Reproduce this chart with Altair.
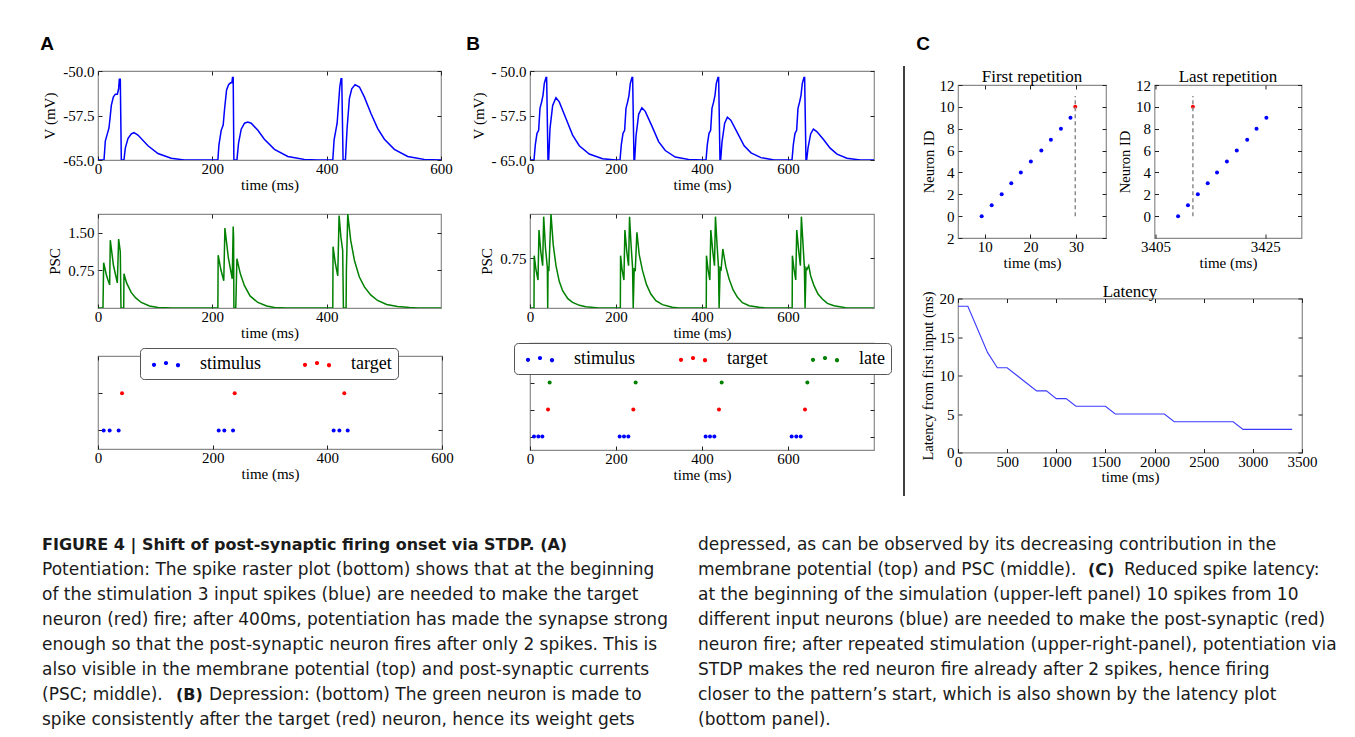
import altair as alt
import pandas as pd

# ---------------------------------------------------------------- data
# Panel A (potentiation): membrane potential  [time (ms), V (mV)]
A_V = [
    [0, -65], [10.5, -65], [12.8, -61.8], [16.3, -60.6], [19.2, -59.6], [21, -58], [23.3, -55.8],
    [26.8, -54.4], [30.3, -53.9], [33.8, -53.9], [36.1, -53], [37.3, -51.4], [39, -51.4], [40.8, -65],
    [45.4, -65], [47.8, -63], [52.4, -61.4], [58.3, -60.6], [62.9, -60.4], [69.9, -60.8], [87.4, -62.6],
    [104.9, -63.9], [128, -64.7], [151, -65],
    [209.7, -65], [211.5, -62.5], [215.5, -60], [219, -59.1], [221.4, -56.4], [224.9, -53.2], [228.4, -52.3],
    [231.8, -52], [234.2, -52], [235.3, -51.1], [236.5, -51.1], [237.7, -65], [243, -65], [245.8, -62.2],
    [250.5, -59.8], [256.3, -58.8], [262, -58.6], [268, -58.8], [279.6, -60], [291, -61.5], [308.7, -63.2],
    [332, -64.4], [361, -64.9], [384, -65],
    [410.7, -65], [413, -61.6], [416, -60], [418.3, -58.8], [420.6, -55.8], [422.9, -52.7], [425.2, -51.3],
    [426.4, -51.3], [428.7, -65], [432.8, -65], [435.7, -59.7], [439.8, -54.6], [443.9, -53], [449.7, -52.3],
    [457.3, -52.7], [466, -54.4], [477.7, -57.2], [489.3, -59.7], [501, -61.5], [518.4, -63.2], [541.7, -64.4],
    [570.8, -64.9], [600, -65],
]
# Panel A: post-synaptic current  [time (ms), PSC]
A_PSC = [
    [0, 0], [8.7, 0], [9.9, 0.90], [15, 0.64], [20.4, 0.46], [21.5, 1.35], [27, 0.85], [33.8, 0.50],
    [36.1, 1.37], [39, 1.12], [40.2, 0], [45, 0], [45.4, 0.68], [50, 0.5], [58, 0.31], [66, 0.2],
    [75.7, 0.11], [90, 0.04], [105, 0.01], [130, 0],
    [209.7, 0], [210.2, 1.05], [215, 0.76], [220, 0.54], [222, 1.59], [228, 1.0], [234.8, 0.58],
    [236.5, 1.62], [237.2, 1.4], [237.7, 0], [241, 0], [243, 0.98], [249, 0.68], [256, 0.45], [266, 0.24],
    [279.6, 0.11], [295, 0.04], [308.7, 0.01], [330, 0],
    [410.7, 0], [411.2, 1.22], [415, 0.9], [419.4, 0.64], [421.7, 1.84], [425, 1.4], [428, 1.15],
    [429.3, 0], [434, 0], [434.5, 0.75], [436.9, 1.87], [442, 1.35], [448.5, 0.95], [457, 0.62],
    [466, 0.42], [477, 0.26], [489, 0.15], [505, 0.07], [524, 0.03], [545, 0.01], [560, 0], [600, 0],
]
# Panel A raster: spike times (ms)
A_STIMULUS = [9.9, 20.3, 36.0, 210.5, 220.3, 235.5, 411.0, 421.0, 435.5]
A_TARGET = [41.9, 238.4, 429.6]

# Panel B (depression): membrane potential
B_V = [
    [0, -65], [9.3, -65], [12.4, -62.4], [16.3, -60.5], [20.1, -60], [23.2, -56.3], [27.1, -55.2],
    [30.2, -54.1], [33.3, -52.1], [37.2, -51.1], [38.7, -51.1], [41.8, -65], [43.4, -65], [46.5, -59.7],
    [52.7, -55.8], [60.4, -54.5], [68.1, -55.2], [83.6, -58], [99.1, -60.8], [114.6, -62.6],
    [137.8, -64], [168.8, -64.8], [199.8, -65],
    [209.3, -65], [212.4, -62.4], [216.3, -60.5], [220.1, -60], [223.2, -56.3], [227.1, -55.2],
    [230.2, -54.1], [233.3, -52.1], [237.2, -51.1], [238.7, -51.1], [241.8, -65], [243.4, -65],
    [246.5, -61], [252.7, -57.3], [260.2, -56.2], [268, -56.8], [283.6, -59.3], [299.1, -61.9],
    [314.6, -63.4], [337.8, -64.5], [368.8, -64.9], [399.8, -65],
    [409.3, -65], [412.4, -62.4], [416.3, -60.5], [420.1, -60], [423.2, -56.3], [427.1, -55.2],
    [430.2, -54.1], [433.3, -52.1], [437.2, -51.1], [438.7, -51.1], [441.8, -65], [443.4, -65],
    [446.5, -62], [452.7, -58.8], [459, -57.8], [467, -58.3], [483, -60.5], [498, -62.6], [514, -63.8],
    [537, -64.6], [568, -65], [599, -65],
    [609.3, -65], [612.4, -62.4], [616.3, -60.5], [620.1, -60], [623.2, -56.3], [627.1, -55.2],
    [630.2, -54.1], [633.3, -52.1], [637.2, -51.1], [638.7, -51.1], [641.8, -65], [643.4, -65],
    [646.5, -63], [652.7, -60.6], [659, -59.8], [667, -60.2], [683, -61.6], [698, -63], [714, -64],
    [737, -64.7], [768, -65], [800, -65],
]
# Panel B: post-synaptic current
B_PSC = [
    [0, 0], [9.3, 0], [9.8, 0.785], [14, 0.57], [18.6, 0.42], [20.9, 1.17], [25, 0.85], [29.4, 0.635],
    [31.8, 1.37], [36, 0.9], [40.3, 0.61], [41.2, 0], [42, 0.6], [44, 0.58], [48.8, 1.41], [54, 0.95],
    [60.4, 0.635], [68, 0.4], [75.9, 0.26], [88, 0.14], [99, 0.085], [115, 0.04], [130, 0.02], [160, 0],
    [210.1, 0], [210.6, 0.785], [214, 0.58], [218.4, 0.42], [220.7, 1.17], [225, 0.85], [229.2, 0.635],
    [231.5, 1.37], [235, 0.95], [238.5, 0.61], [240, 0], [242.4, 0.6], [244.7, 0.55], [248.6, 1.135],
    [254, 0.8], [261.7, 0.56], [271, 0.35], [281, 0.21], [292.7, 0.11], [308, 0.05], [331, 0.01], [347, 0],
    [409.9, 0], [410.4, 0.785], [414, 0.58], [418.2, 0.42], [420.5, 1.17], [425, 0.85], [429, 0.635],
    [431.3, 1.37], [435, 0.95], [438.3, 0.61], [439.8, 0], [442.2, 0.6], [444.5, 0.58], [448.4, 0.885],
    [455.4, 0.62], [463, 0.435], [472.4, 0.27], [482.5, 0.16], [494, 0.08], [509.6, 0.035], [533, 0.01],
    [548, 0],
    [609.7, 0], [610.2, 0.785], [614, 0.58], [618, 0.42], [620.3, 1.17], [625, 0.85], [628.8, 0.635],
    [631.1, 1.37], [635, 0.95], [638.1, 0.61], [639.7, 0], [642, 0.6], [644.3, 0.58], [648.2, 0.635],
    [652.8, 0.48], [660.5, 0.335], [669.8, 0.21], [679.9, 0.135], [691.5, 0.07], [707, 0.035],
    [734, 0.005], [760, 0], [800, 0],
]
# Panel B raster: spike times (ms)
B_STIMULUS = [9.3, 19.4, 28.7, 208.5, 218.6, 228.7, 408.5, 418.6, 428.7, 608.5, 619.4, 629.5]
B_TARGET = [41.9, 240.3, 439.5, 639.5]
B_LATE = [45.7, 245.7, 445.7, 645.0]

# Panel C: first / last repetition (spike time ms, neuron id)
FIRST_T = [9.3, 11.5, 13.7, 15.8, 17.9, 20.1, 22.4, 24.5, 26.7, 28.8]
FIRST_ID = [0, 1, 2, 3, 4, 5, 6, 7, 8, 9]
FIRST_POST = [29.85, 10]
FIRST_DASH = [29.85, 0, 11]
LAST_T = [3409.1, 3410.9, 3412.7, 3414.5, 3416.2, 3418.0, 3419.8, 3421.7, 3423.4, 3425.2]
LAST_ID = [0, 1, 2, 3, 4, 5, 6, 7, 8, 9]
LAST_POST = [3411.8, 10]
LAST_DASH = [3411.8, 0, 11]

# Panel C: latency
LAT_T = [0, 100, 200, 300, 400, 500, 600, 700, 800, 900, 1000, 1100, 1200, 1300, 1400, 1500, 1600,
         1700, 1800, 1900, 2000, 2100, 2200, 2300, 2400, 2500, 2600, 2700, 2800, 2900, 3000, 3100,
         3200, 3300, 3400]
LAT_MS = [19, 19, 16, 13, 11, 11, 10, 9, 8, 8, 7, 7, 6, 6, 6, 6, 5, 5, 5, 5, 5, 5, 4, 4, 4, 4, 4, 4,
          4, 3, 3, 3, 3, 3, 3]

# tick labels
A_X_TICKS = [0, 200, 400, 600]
A_PSC_X_TICKS = [0, 200, 400]
B_X_TICKS = [0, 200, 400, 600]
V_TICKS = [-50, -57.5, -65]
A_PSC_TICKS = [0.75, 1.5]
B_PSC_TICKS = [0.75]
A_ROW_TICKS = [0, 1]
B_ROW_TICKS = [0, 1, 2]
FIRST_X_TICKS = [10, 20, 30]
LAST_X_TICKS = [3405, 3425]
FIRST_Y_TICKS = [-2, 0, 2, 4, 6, 8, 10, 12]
LAST_Y_TICKS = [0, 2, 4, 6, 8, 10, 12]
LAT_X_TICKS = [0, 500, 1000, 1500, 2000, 2500, 3000, 3500]
LAT_Y_TICKS = [0, 5, 10, 15, 20]

# caption text
CAP_HEAD = "FIGURE 4 | Shift of post-synaptic firing onset via STDP. (A)"
CAP_LEFT = [
    "Potentiation: The spike raster plot (bottom) shows that at the beginning",
    "of the stimulation 3 input spikes (blue) are needed to make the target",
    "neuron (red) fire; after 400ms, potentiation has made the synapse strong",
    "enough so that the post-synaptic neuron fires after only 2 spikes. This is",
    "also visible in the membrane potential (top) and post-synaptic currents",
]
CAP_LEFT_SPLIT = ["(PSC; middle).", "(B)", "Depression: (bottom) The green neuron is made to"]
CAP_LEFT_LAST = "spike consistently after the target (red) neuron, hence its weight gets"
CAP_RIGHT_FIRST = "depressed, as can be observed by its decreasing contribution in the"
CAP_RIGHT_SPLIT = ["membrane potential (top) and PSC (middle).", "(C)", "Reduced spike latency:"]
CAP_RIGHT = [
    "at the beginning of the simulation (upper-left panel) 10 spikes from 10",
    "different input neurons (blue) are needed to make the post-synaptic (red)",
    "neuron fire; after repeated stimulation (upper-right-panel), potentiation via",
    "STDP makes the red neuron fire already after 2 spikes, hence firing",
    "closer to the pattern\u2019s start, which is also shown by the latency plot",
    "(bottom panel).",
]

# ---------------------------------------------------------------- style
SERIF = "Liberation Serif"
SANS = "DejaVu Sans"
BLUE, GREEN, RED = "#0000ff", "#008000", "#ff0000"
FRAME = "#8a8a8a"
TICKC = "#222222"
NOFRAME = alt.ViewBackground(stroke="transparent")
ONE = pd.DataFrame({"a": [0]})
TICK = 4  # inward tick length


def dots_path(centers, r):
    out = []
    for cx, cy in centers:
        out.append(f"M{cx - r},{cy}A{r},{r} 0 1,0 {cx + r},{cy}A{r},{r} 0 1,0 {cx - r},{cy}Z")
    return "".join(out)


# three little dots, drawn to the right of the (20 px) legend symbol slot
THREE_DOTS = dots_path([(-0.2, 0.08), (1.0, -0.1), (2.2, 0.12)], 0.21)


def sc(domain):
    return alt.Scale(domain=domain, nice=False, zero=False)


def x_axis(values, title="time (ms)"):
    return alt.Axis(values=values, title=title, format="d", labelFlush=False, labelOverlap=False,
                    labelPadding=1.5, titlePadding=0.5, ticks=True, tickSize=TICK, offset=-TICK,
                    tickColor=TICKC, domain=False, grid=False)


def y_axis(values, title, expr=None, fmt=None, title_size=15, title_pad=5):
    kw = dict(values=values, title=title, labelFlush=False, labelOverlap=False, labelPadding=4,
              titlePadding=title_pad, ticks=True, tickSize=TICK, offset=-TICK,
              tickColor=TICKC, domain=False, grid=False, titleFontSize=title_size)
    if expr:
        kw["labelExpr"] = expr
    if fmt:
        kw["format"] = fmt
    return alt.Axis(**kw)


def bare_axis(values, orient=None):
    kw = dict(values=values, labels=False, title=None, ticks=True, tickSize=TICK, offset=-TICK,
              tickColor=TICKC, domain=False, grid=False)
    if orient:
        kw["orient"] = orient
    return alt.Axis(**kw)


def mirrored(main, xdom, ydom, xticks, yticks, **props):
    """Add the inward ticks on the top and right frame edges (matplotlib style)."""
    g = pd.DataFrame({"gx": [xdom[0]], "gy": [ydom[0]]})
    ghost = alt.Chart(g).mark_point(opacity=0).encode(
        x=alt.X("gx:Q", scale=sc(xdom), axis=bare_axis(xticks, "top")),
        y=alt.Y("gy:Q", scale=sc(ydom), axis=bare_axis(yticks, "right")))
    return alt.layer(main, ghost).resolve_axis(x="independent", y="independent").properties(**props)


def letter(ch, dx, dy):
    return alt.Chart(pd.DataFrame({"s": [ch]})).mark_text(
        font="Liberation Sans", fontWeight="bold", fontSize=19, align="center", baseline="middle",
        color="black").encode(text="s:N", x=alt.value(dx), y=alt.value(dy))


def header(ch, dx, w, anchor=False):
    layers = [letter(ch, dx, -7)]
    if anchor:
        # transparent anchor marking the figure's top-left corner
        layers.append(alt.Chart(ONE).mark_rule(strokeOpacity=0, strokeWidth=1).encode(
            x=alt.value(-89), x2=alt.value(-80), y=alt.value(-41.5)))
    return alt.layer(*layers).properties(width=w, height=1, view=NOFRAME)


def pairs_df(pairs):
    return pd.DataFrame(pairs, columns=["t", "v"])


def v_panel(pairs, xmax, xticks, yexpr, w):
    main = alt.Chart(pairs_df(pairs)).mark_line(color=BLUE, strokeWidth=1.5, clip=True).encode(
        x=alt.X("t:Q", scale=sc([0, xmax]), axis=x_axis(xticks)),
        y=alt.Y("v:Q", scale=sc([-65, -50]), axis=y_axis(V_TICKS, "V (mV)", expr=yexpr)))
    return mirrored(main, [0, xmax], [-65, -50], xticks, V_TICKS, width=w, height=89)


def psc_panel(pairs, xmax, xticks, ymax, yticks, w):
    main = alt.Chart(pairs_df(pairs)).mark_line(color=GREEN, strokeWidth=1.5, clip=True).encode(
        x=alt.X("t:Q", scale=sc([0, xmax]), axis=x_axis(xticks)),
        y=alt.Y("v:Q", scale=sc([0, ymax]), axis=y_axis(yticks, "PSC", fmt=".2f")))
    return mirrored(main, [0, xmax], [0, ymax], xticks, yticks, width=w, height=94)


def raster_panel(groups, names, colors, rows_ticks, ymax, xmax, xticks, w, h, lx, ly, colpad):
    rows = []
    for k, (name, times) in enumerate(zip(names, groups)):
        rows += [{"t": t, "row": k, "kind": name} for t in times]
    legend = alt.Legend(orient="none", legendX=lx, legendY=ly, direction="horizontal",
                        columns=len(names), title=None, symbolType=THREE_DOTS, symbolSize=400,
                        symbolStrokeWidth=0, symbolOpacity=1, labelFont=SERIF, labelFontSize=18,
                        labelColor="black", labelOffset=34, columnPadding=colpad, padding=6,
                        strokeColor="#555555", cornerRadius=4, fillColor="white", labelLimit=300)
    main = alt.Chart(pd.DataFrame(rows)).mark_circle(size=16, opacity=1).encode(
        x=alt.X("t:Q", scale=sc([0, xmax]), axis=x_axis(xticks)),
        y=alt.Y("row:Q", scale=sc([-0.5, ymax]), axis=bare_axis(rows_ticks)),
        color=alt.Color("kind:N", scale=alt.Scale(domain=names, range=colors), legend=legend))
    return mirrored(main, [0, xmax], [-0.5, ymax], xticks, rows_ticks, width=w, height=h)


def rep_panel(ts, ids, post, dash, xdom, xticks, yticks, yexpr, title, w):
    xa = x_axis(xticks)
    ya = y_axis(yticks, "Neuron ID", expr=yexpr, title_size=14.5, title_pad=3)
    df = pd.DataFrame({"t": ts + [post[0]], "id": ids + [post[1]],
                       "kind": ["input"] * len(ts) + ["output"]})
    pts = alt.Chart(df).mark_circle(size=16, opacity=1).encode(
        x=alt.X("t:Q", scale=sc(xdom), axis=xa),
        y=alt.Y("id:Q", scale=sc([-2, 12]), axis=ya),
        color=alt.Color("kind:N", scale=alt.Scale(domain=["input", "output"], range=[BLUE, RED]),
                        legend=None))
    ddf = pd.DataFrame({"t": [dash[0]], "id": [dash[1]], "id_end": [dash[2]]})
    rule = alt.Chart(ddf).mark_rule(color="#8c8c8c", strokeDash=[4, 3], strokeWidth=1.5).encode(
        x=alt.X("t:Q", scale=sc(xdom), axis=xa),
        y=alt.Y("id:Q", scale=sc([-2, 12]), axis=ya), y2="id_end:Q")
    return mirrored(alt.layer(pts, rule), xdom, [-2, 12], xticks, yticks, width=w, height=153,
                    title=alt.TitleParams(title, font=SERIF, fontSize=17, fontWeight="normal",
                                          offset=3, dy=10.5))


def H(*charts, spacing):
    return alt.hconcat(*charts, spacing=spacing).resolve_scale(color="independent")


def V(*charts, spacing):
    return alt.vconcat(*charts, spacing=spacing).resolve_scale(color="independent")


# ---------------------------------------------------------------- panels
A_top = v_panel(A_V, 600, A_X_TICKS, "replace(format(datum.value, '.1f'), '\u2212', '-')", 343)
A_mid = psc_panel(A_PSC, 600, A_PSC_X_TICKS, 1.87, A_PSC_TICKS, 343)
A_bot = raster_panel([A_STIMULUS, A_TARGET], ["stimulus", "target"], [BLUE, RED], A_ROW_TICKS,
                     2, 600, A_X_TICKS, 344, 93, 42, -8, 35)

B_top = v_panel(B_V, 800, B_X_TICKS, "'- ' + format(abs(datum.value), '.1f')", 344)
B_mid = psc_panel(B_PSC, 800, B_X_TICKS, 1.41, B_PSC_TICKS, 344)
B_bot = raster_panel([B_STIMULUS, B_TARGET, B_LATE], ["stimulus", "target", "late"],
                     [BLUE, RED, GREEN], B_ROW_TICKS, 3.463, 800, B_X_TICKS, 344, 107, -16, 0, 37)

C_first = rep_panel(FIRST_T, FIRST_ID, FIRST_POST, FIRST_DASH, [4.1, 36.6], FIRST_X_TICKS,
                    FIRST_Y_TICKS, "format(abs(datum.value), 'd')", "First repetition", 148)
C_last = rep_panel(LAST_T, LAST_ID, LAST_POST, LAST_DASH, [3404.8, 3431.6], LAST_X_TICKS,
                   LAST_Y_TICKS, None, "Last repetition", 147)

lat_main = alt.Chart(pd.DataFrame({"t": LAT_T, "lat": LAT_MS})).mark_line(
    color="#3a3aff", strokeWidth=1.1).encode(
    x=alt.X("t:Q", scale=sc([0, 3500]), axis=x_axis(LAT_X_TICKS)),
    y=alt.Y("lat:Q", scale=sc([0, 20]),
            axis=y_axis(LAT_Y_TICKS, "Latency from first input (ms)", fmt="d", title_size=14.5,
                        title_pad=4)))
C_lat = mirrored(lat_main, [0, 3500], [0, 20], LAT_X_TICKS, LAT_Y_TICKS, width=344, height=154,
                 title=alt.TitleParams("Latency", font=SERIF, fontSize=17, fontWeight="normal",
                                       offset=2, dy=12))

sep = alt.Chart(ONE).mark_rule(color="black", strokeWidth=1.5).encode(
    x=alt.value(0), y=alt.value(15), y2=alt.value(445)).properties(width=1, height=1, view=NOFRAME)

# ---------------------------------------------------------------- caption
LINE_GAP = 25.0
CAP_Y0 = 35.5
cap_scale = alt.Scale(domain=[0, 7], range=[CAP_Y0, CAP_Y0 + 7 * LINE_GAP])
X_LEFT, X_RIGHT = -56, 600


def cap_text(texts, lines, x, bold=False, size=17):
    df = pd.DataFrame({"text": texts, "line": lines})
    return alt.Chart(df).mark_text(
        font=SANS, fontSize=size, fontWeight="bold" if bold else "normal", align="left",
        baseline="middle", color="#1a1a1a").encode(
        x=alt.value(x), y=alt.Y("line:Q", scale=cap_scale, axis=None), text="text:N")


caption = alt.layer(
    cap_text([CAP_HEAD], [0], X_LEFT, bold=True, size=16),
    cap_text(CAP_LEFT, [1, 2, 3, 4, 5], X_LEFT),
    cap_text([CAP_LEFT_SPLIT[0]], [6], X_LEFT),
    cap_text([CAP_LEFT_SPLIT[1]], [6], X_LEFT + 134, bold=True, size=16),
    cap_text([CAP_LEFT_SPLIT[2]], [6], X_LEFT + 167),
    cap_text([CAP_LEFT_LAST], [7], X_LEFT),
    cap_text([CAP_RIGHT_FIRST], [0], X_RIGHT),
    cap_text([CAP_RIGHT_SPLIT[0]], [1], X_RIGHT),
    cap_text([CAP_RIGHT_SPLIT[1]], [1], X_RIGHT + 390, bold=True, size=16),
    cap_text([CAP_RIGHT_SPLIT[2]], [1], X_RIGHT + 426),
    cap_text(CAP_RIGHT, [2, 3, 4, 5, 6, 7], X_RIGHT),
).properties(width=1150, height=195, view=NOFRAME)

# ---------------------------------------------------------------- layout
colA = V(header("A", -51, 343, anchor=True),
         V(A_top, V(A_mid, A_bot, spacing=5), spacing=19), spacing=8)
colB = V(header("B", -57, 344),
         V(B_top, V(B_mid, B_bot, spacing=0), spacing=19), spacing=8)
colC = V(header("C", -35, 148),
         V(H(C_first, C_last, spacing=8.5), C_lat, spacing=10.5), spacing=11)
row = H(H(colA, colB, spacing=11), H(sep, colC, spacing=9), spacing=9)
chart = V(row, caption, spacing=10).properties(
    padding={"left": 0, "top": 0, "right": 0, "bottom": 0}
).configure_view(stroke=FRAME, strokeWidth=1.2).configure_axis(
    labelFont=SERIF, titleFont=SERIF, labelFontSize=15, titleFontSize=15, titleFontWeight="normal",
    labelColor="black", titleColor="black", tickWidth=1
).configure_title(font=SERIF, fontSize=17, fontWeight="normal", color="black")

chart.save("out.html", embed_options={"renderer": "svg", "actions": False})
